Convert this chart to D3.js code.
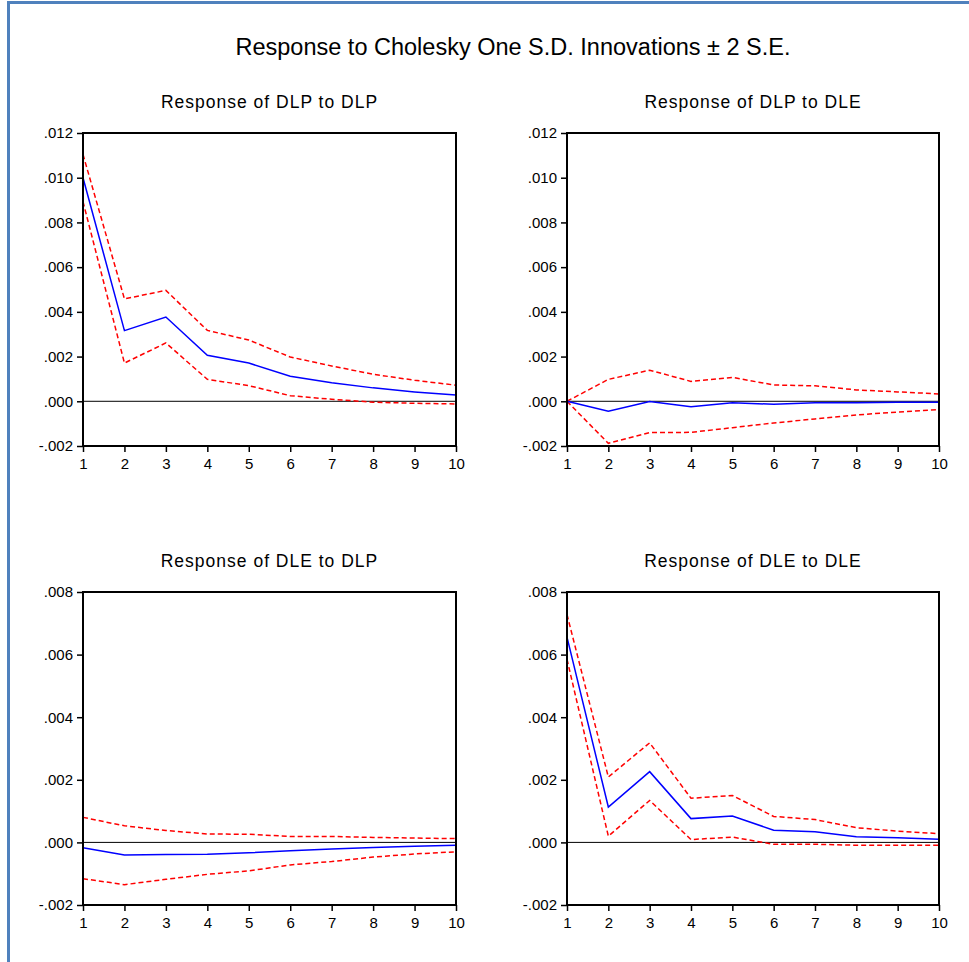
<!DOCTYPE html>
<html>
<head>
<meta charset="utf-8">
<script src="https://cdn.jsdelivr.net/npm/d3@7"></script>
<style>
  body { margin: 0; background: #fff; }
  svg { display: block; font-family: "Liberation Sans", Arial, sans-serif; }
</style>
</head>
<body>
<div id="chart"></div>
<script>
// periods on the x axis
const periods = [1, 2, 3, 4, 5, 6, 7, 8, 9, 10];

// Response of DLP to DLP
const dlpDlp = [0.0100, 0.00316, 0.00377, 0.00206, 0.00171, 0.00112, 0.00083, 0.00060, 0.00042, 0.00028];
const dlpDlpUp = [0.01104, 0.00458, 0.00496, 0.00317, 0.00274, 0.00198, 0.00158, 0.00121, 0.00094, 0.00072];
const dlpDlpLo = [0.00893, 0.00171, 0.00261, 0.00098, 0.00070, 0.00025, 0.00009, -0.00004, -0.00009, -0.00012];

// Response of DLP to DLE
const dlpDle = [0, -0.00045, -0.00001, -0.00024, -0.00007, -0.00013, -0.00007, -0.00006, -0.00004, -0.00004];
const dlpDleUp = [0, 0.00098, 0.00139, 0.00089, 0.00107, 0.00073, 0.00069, 0.00051, 0.00042, 0.00033];
const dlpDleLo = [0, -0.00188, -0.00140, -0.00139, -0.00118, -0.00097, -0.00079, -0.00061, -0.00048, -0.00037];

// Response of DLE to DLP
const dleDlp = [-0.00017, -0.00040, -0.00039, -0.00038, -0.00033, -0.00027, -0.00021, -0.00016, -0.00012, -0.00009];
const dleDlpUp = [0.00080, 0.00053, 0.00038, 0.00027, 0.00026, 0.00019, 0.00019, 0.00016, 0.00014, 0.00012];
const dleDlpLo = [-0.00116, -0.00135, -0.00118, -0.00102, -0.00091, -0.00072, -0.00061, -0.00047, -0.00037, -0.00030];

// Response of DLE to DLE
const dleDle = [0.00656, 0.00113, 0.00226, 0.00076, 0.00084, 0.00039, 0.00034, 0.00018, 0.00015, 0.00010];
const dleDleUp = [0.00728, 0.00209, 0.00318, 0.00141, 0.00150, 0.00083, 0.00073, 0.00047, 0.00036, 0.00028];
const dleDleLo = [0.00585, 0.00020, 0.00134, 0.00009, 0.00017, -0.00006, -0.00006, -0.00009, -0.00009, -0.00009];

const topTicks = [-0.002, 0, 0.002, 0.004, 0.006, 0.008, 0.010, 0.012];
const bottomTicks = [-0.002, 0, 0.002, 0.004, 0.006, 0.008];

const mainTitle = "Response to Cholesky One S.D. Innovations \u00b1 2 S.E.";

const panels = [
  { title: "Response of DLP to DLP", mid: dlpDlp, up: dlpDlpUp, lo: dlpDlpLo, ticks: topTicks, x0: 83, x1: 456, y0: 133, y1: 446 },
  { title: "Response of DLP to DLE", mid: dlpDle, up: dlpDleUp, lo: dlpDleLo, ticks: topTicks, x0: 567, x1: 939, y0: 133, y1: 446 },
  { title: "Response of DLE to DLP", mid: dleDlp, up: dleDlpUp, lo: dleDlpLo, ticks: bottomTicks, x0: 83, x1: 456, y0: 592, y1: 905 },
  { title: "Response of DLE to DLE", mid: dleDle, up: dleDleUp, lo: dleDleLo, ticks: bottomTicks, x0: 567, x1: 939, y0: 592, y1: 905 }
];

const width = 969, height = 962;

const svg = d3.select("#chart").append("svg")
  .attr("width", width)
  .attr("height", height);

// blue frame, left and top only
svg.append("line")
  .attr("x1", 8.5).attr("x2", 8.5).attr("y1", 1).attr("y2", height)
  .attr("stroke", "#4F81BD").attr("stroke-width", 3);
svg.append("line")
  .attr("x1", 7).attr("x2", width).attr("y1", 2.5).attr("y2", 2.5)
  .attr("stroke", "#4F81BD").attr("stroke-width", 3);

svg.append("text")
  .attr("x", 513)
  .attr("y", 55)
  .attr("text-anchor", "middle")
  .style("font-size", "23.5px")
  .attr("fill", "#000")
  .text(mainTitle);

// ".012", "-.002" style labels
const fmt = v => {
  const s = d3.format(".3f")(v).replace("\u2212", "-");
  return s.replace("0.", ".");
};

panels.forEach(p => {
  const x = d3.scaleLinear()
    .domain([1, 10])
    .range([p.x0, p.x1]);

  const y = d3.scaleLinear()
    .domain([p.ticks[0], p.ticks[p.ticks.length - 1]])
    .range([p.y1, p.y0]);

  const g = svg.append("g");

  g.append("text")
    .attr("x", (p.x0 + p.x1) / 2)
    .attr("y", p.y0 - 25)
    .attr("text-anchor", "middle")
    .style("font-size", "17.5px")
    .style("letter-spacing", "1px")
    .text(p.title);

  // zero line
  g.append("line")
    .attr("x1", p.x0).attr("x2", p.x1)
    .attr("y1", y(0)).attr("y2", y(0))
    .attr("stroke", "#000").attr("stroke-width", 1);

  const line = d3.line()
    .x((d, i) => x(periods[i]))
    .y(d => y(d));

  [p.up, p.lo].forEach(band => {
    g.append("path")
      .datum(band)
      .attr("fill", "none")
      .attr("stroke", "#FF0000")
      .attr("stroke-width", 1.5)
      .attr("stroke-dasharray", "5,3")
      .attr("d", line);
  });

  g.append("path")
    .datum(p.mid)
    .attr("fill", "none")
    .attr("stroke", "#0000FF")
    .attr("stroke-width", 1.5)
    .attr("d", line);

  // frame
  g.append("rect")
    .attr("x", p.x0).attr("y", p.y0)
    .attr("width", p.x1 - p.x0).attr("height", p.y1 - p.y0)
    .attr("fill", "none")
    .attr("stroke", "#000")
    .attr("stroke-width", 2);

  const yAxis = g.append("g")
    .attr("transform", `translate(${p.x0},0)`)
    .call(d3.axisLeft(y).tickValues(p.ticks).tickFormat(fmt).tickSize(6).tickPadding(4));

  const xAxis = g.append("g")
    .attr("transform", `translate(0,${p.y1})`)
    .call(d3.axisBottom(x).tickValues(periods).tickFormat(d3.format("d")).tickSize(6).tickPadding(6));

  [yAxis, xAxis].forEach(a => {
    a.attr("font-size", null).attr("font-family", null);
    a.select(".domain").remove();
    a.selectAll(".tick line").attr("stroke", "#000").attr("stroke-width", 1.5);
    a.selectAll(".tick text")
      .style("font-size", "15px")
      .attr("fill", "#000");
  });
});
</script>
</body>
</html>
